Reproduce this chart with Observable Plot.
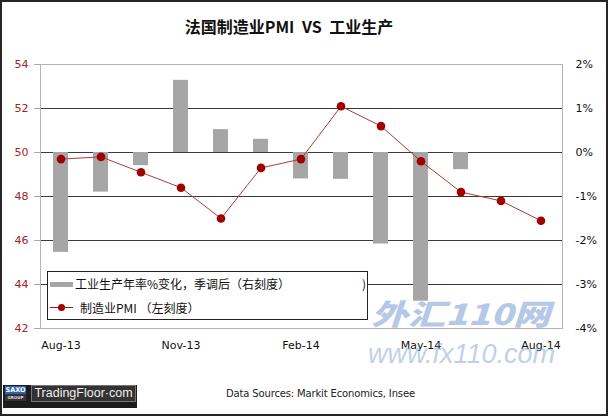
<!DOCTYPE html>
<html>
<head>
<meta charset="utf-8">
<script src="https://cdn.jsdelivr.net/npm/d3@7"></script>
<script src="https://cdn.jsdelivr.net/npm/@observablehq/plot@0.6"></script>
<style>
  html, body { margin: 0; padding: 0; background: #fff; }
  #wrap { position: relative; width: 608px; height: 416px; overflow: hidden; background: #fff; }
  #wrap > svg { position: absolute; left: 0; top: 0; }
  .abs { position: absolute; white-space: nowrap; line-height: 1; }
  #border { position: absolute; left: 0; top: 0; width: 608px; height: 416px; box-sizing: border-box; border: 2px solid #262626; pointer-events: none; z-index: 10; }
</style>
</head>
<body>
<div id="wrap">
  <div class="abs" id="title" style="left:0;width:578px;text-align:center;top:18px;font-family:'Noto Sans CJK SC';font-weight:700;font-size:16px;color:#111;word-spacing:4px;">法国制造业PMI VS 工业生产</div>
  <div class="abs" id="wm1" style="left:371px;top:298px;font-family:'Noto Sans CJK SC';font-weight:900;font-style:italic;font-size:29px;color:rgba(110,145,210,0.5);transform:scaleX(1.28);transform-origin:left top;z-index:6;">外汇110网</div>
  <div class="abs" id="wm2" style="left:368px;top:341px;font-family:'Liberation Sans';font-style:italic;font-size:27px;color:rgba(130,160,215,0.5);z-index:6;">www.fx110.com</div>
  <div id="legend" style="position:absolute;left:47px;top:271px;width:321px;height:49px;box-sizing:border-box;border:1px solid #222;background:#fff;z-index:5;"></div>
  <div class="abs" style="left:50px;top:282px;width:23px;height:5px;background:#a6a6a6;z-index:6;"></div>
  <div class="abs" id="leg1" style="left:75px;top:278px;font-family:'Noto Sans CJK SC';font-size:12px;color:#111;z-index:6;"></div>
  <div class="abs" style="left:362px;top:278px;font-family:'Noto Sans CJK SC';font-size:12px;color:#111;z-index:6;">)</div>
  <div class="abs" style="left:50px;top:307px;width:23px;height:1px;background:#a01818;z-index:6;"></div>
  <div class="abs" style="left:58px;top:304px;width:7px;height:7px;border-radius:50%;background:#a00000;z-index:6;"></div>
  <div class="abs" id="leg2" style="left:80px;top:302px;font-family:'Noto Sans CJK SC';font-size:12px;color:#111;z-index:6;"></div>
  <div class="abs" style="left:3px;top:385px;width:134px;height:23px;background:#1c1c1c;"></div>
  <div class="abs" style="left:5px;top:386px;width:21px;height:8px;background:#2f62ad;color:#fff;font-family:'DejaVu Sans';font-weight:700;font-size:6.5px;text-align:center;line-height:8px;">SAXO</div>
  <div class="abs" style="left:5px;top:394px;width:21px;height:7px;background:#333;color:#ddd;font-family:'DejaVu Sans';font-weight:700;font-size:4px;text-align:center;line-height:7px;">GROUP</div>
  <div class="abs" style="left:31px;top:385px;width:105px;height:17px;box-sizing:border-box;border:1px solid #777;background:#333;color:#eee;font-family:'Liberation Sans';font-size:12.5px;line-height:15px;text-align:center;">TradingFloor·com</div>
  <div class="abs" id="src" style="left:226px;top:389px;font-family:'DejaVu Sans';font-size:10px;letter-spacing:-0.15px;color:#222;"></div>
  <div id="border"></div>
</div>
<script>
const months = ["Aug-13","Sep-13","Oct-13","Nov-13","Dec-13","Jan-14","Feb-14","Mar-14","Apr-14","May-14","Jun-14","Jul-14","Aug-14"];
const pmi = [49.7, 49.8, 49.1, 48.4, 47.0, 49.3, 49.7, 52.1, 51.2, 49.6, 48.2, 47.8, 46.9];
const ipYoY = [-2.27, -0.9, -0.3, 1.64, 0.52, 0.3, -0.6, -0.61, -2.08, -3.38, -0.39, null, null];
const xTicks = ["Aug-13","Nov-13","Feb-14","May-14","Aug-14"];
const leftTicks = [42, 44, 46, 48, 50, 52, 54];
const gridTicks = [44, 46, 48, 50, 52];
const rightTickLabels = ["-4%","-3%","-2%","-1%","0%","1%","2%"];
const title = "法国制造业PMI VS 工业生产";
const legendBar = "工业生产年率%变化，季调后（右刻度）";
const legendLine = "制造业PMI （左刻度）";
const source = "Data Sources: Markit Economics, Insee";

document.getElementById("leg1").textContent = legendBar;
document.getElementById("leg2").textContent = legendLine;
document.getElementById("src").textContent = source;

// right axis (%) mapped onto the left PMI scale: 0% ↔ 50, 1% ↔ 2 points
const toLeft = p => 50 + p * 2;
const lineData = months.map((m, i) => ({month: m, pmi: pmi[i]}));
const barData = months.map((m, i) => ({month: m, ip: ipYoY[i]})).filter(d => d.ip != null);

const chart = Plot.plot({
  width: 608,
  height: 360,
  marginTop: 64,
  marginBottom: 32,
  marginLeft: 40,
  marginRight: 46,
  style: {fontFamily: "DejaVu Sans", fontSize: "11px", background: "transparent", overflow: "visible"},
  x: {type: "band", domain: months, paddingInner: 0.615, paddingOuter: 0.3075},
  y: {domain: [42, 54]},
  marks: [
    Plot.ruleY(gridTicks, {stroke: "#3a3a3a", strokeWidth: 1}),
    Plot.barY(barData, {x: "month", y1: 50, y2: d => toLeft(d.ip), fill: "#a6a6a6"}),
    Plot.frame({stroke: "#b3b3b3"}),
    Plot.line(lineData, {x: "month", y: "pmi", stroke: "#b03a3a", strokeWidth: 1}),
    Plot.dot(lineData, {x: "month", y: "pmi", r: 4.3, fill: "#a00000", stroke: "none"}),
    Plot.axisY({ticks: leftTicks, tickSize: 6, tickPadding: 6, stroke: "#a6a6a6", fill: "#9e2424", label: null, anchor: "left"}),
    Plot.axisY({ticks: leftTicks, anchor: "right", tickSize: 0, tickPadding: 13, textAnchor: "start", label: null, fill: "#111",
      tickFormat: d => rightTickLabels[leftTicks.indexOf(d)]}),
    Plot.axisX({ticks: xTicks, tickSize: 0, tickPadding: 13, label: null, fill: "#111"})
  ]
});
document.getElementById("wrap").insertBefore(chart, document.getElementById("wrap").firstChild);
</script>
</body>
</html>
